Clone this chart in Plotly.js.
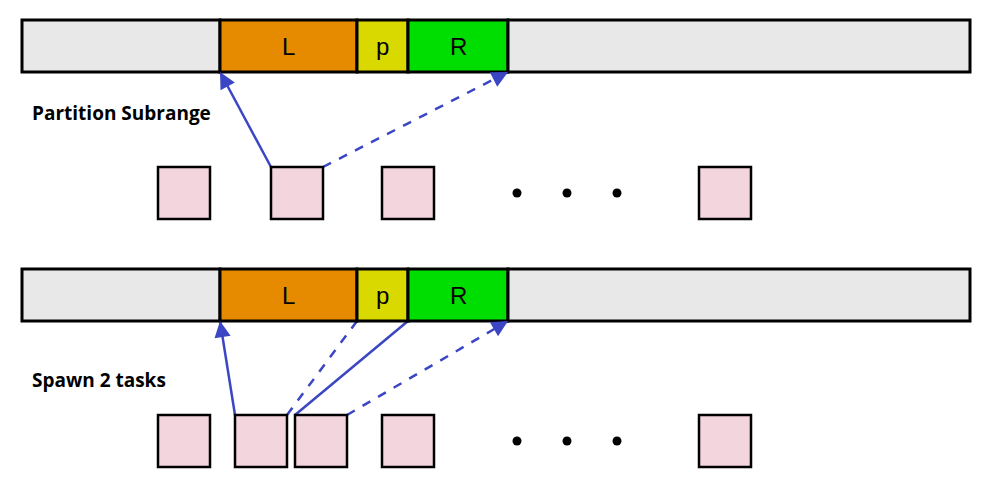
<html><head>
<script src="https://cdn.plot.ly/plotly-3.0.1.min.js"></script>
<style>body{margin:0;background:#fff}</style></head><body>
<div id="chart" style="width:991px;height:480px"></div>
<script>
// array bar segments: [x0, x1, label, colour]
const segEdges = [22, 220, 357, 408, 508, 970];
const segLabels = ['', 'L', 'p', 'R', ''];
const segColors = ['#e8e8e8', '#e68a00', '#d9d900', '#00dd00', '#e8e8e8'];
const barTops = [20, 269];
const barHeight = 52;

// task boxes per row
const taskRowsX = [[158, 271, 382, 699], [158, 235, 295, 382, 699]];
const taskTops = [167, 415];
const taskSize = 52;
const dotsX = [517, 567, 617];

// arrows: [x0, y0, x1, y1, dashed]
const arrows = [
  [271, 167, 220, 72, false],
  [323, 167, 508, 72, true],
  [235, 415, 220, 321, false],
  [287, 415, 357, 321, true],
  [295, 415, 408, 321, false],
  [347, 415, 508, 321, true]
];
const captions = ['Partition Subrange', 'Spawn 2 tasks'];
const captionY = [113, 380];

const shapes = [], annotations = [], traces = [];
barTops.forEach(top => {
  segLabels.forEach((lab, i) => {
    shapes.push({type: 'rect', x0: segEdges[i], x1: segEdges[i + 1], y0: top, y1: top + barHeight,
      fillcolor: segColors[i], line: {color: '#000', width: 3}});
    if (lab) annotations.push({x: (segEdges[i] + segEdges[i + 1]) / 2, y: top + barHeight / 2, text: lab,
      showarrow: false, font: {family: 'Liberation Sans', size: 24, color: '#000'}});
  });
});
taskRowsX.forEach((xs, r) => {
  xs.forEach(x => shapes.push({type: 'rect', x0: x, x1: x + taskSize, y0: taskTops[r], y1: taskTops[r] + taskSize,
    fillcolor: '#f2d5dd', line: {color: '#000', width: 2.5}}));
  traces.push({x: dotsX, y: dotsX.map(() => taskTops[r] + taskSize / 2), mode: 'markers', type: 'scatter',
    marker: {color: '#000', size: 9}, hoverinfo: 'skip'});
});
arrows.forEach(a => {
  traces.push({x: [a[0], a[2]], y: [a[1], a[3]], mode: 'lines', type: 'scatter',
    line: {color: '#3b46c4', width: 2.5, dash: a[4] ? 'dash' : 'solid'}, hoverinfo: 'skip'});
  const dx = a[2] - a[0], dy = a[3] - a[1], len = Math.hypot(dx, dy);
  annotations.push({x: a[2], y: a[3], ax: a[2] - dx / len * 6, ay: a[3] - dy / len * 6,
    axref: 'x', ayref: 'y', xref: 'x', yref: 'y', text: '', showarrow: true,
    arrowhead: 2, arrowsize: 1.3, arrowwidth: 2.5, arrowcolor: '#3b46c4'});
});
captions.forEach((c, i) => annotations.push({x: 30, y: captionY[i], xanchor: 'left', text: '<b>' + c + '</b>',
  showarrow: false, font: {family: 'Open Sans', size: 19, color: '#000'}}));

Plotly.newPlot('chart', traces, {
  width: 991, height: 480, margin: {l: 0, r: 0, t: 0, b: 0}, showlegend: false,
  paper_bgcolor: '#fff', plot_bgcolor: '#fff',
  xaxis: {range: [0, 991], visible: false, fixedrange: true},
  yaxis: {range: [480, 0], visible: false, fixedrange: true},
  shapes: shapes, annotations: annotations
}, {displayModeBar: false, staticPlot: true});
</script></body></html>
